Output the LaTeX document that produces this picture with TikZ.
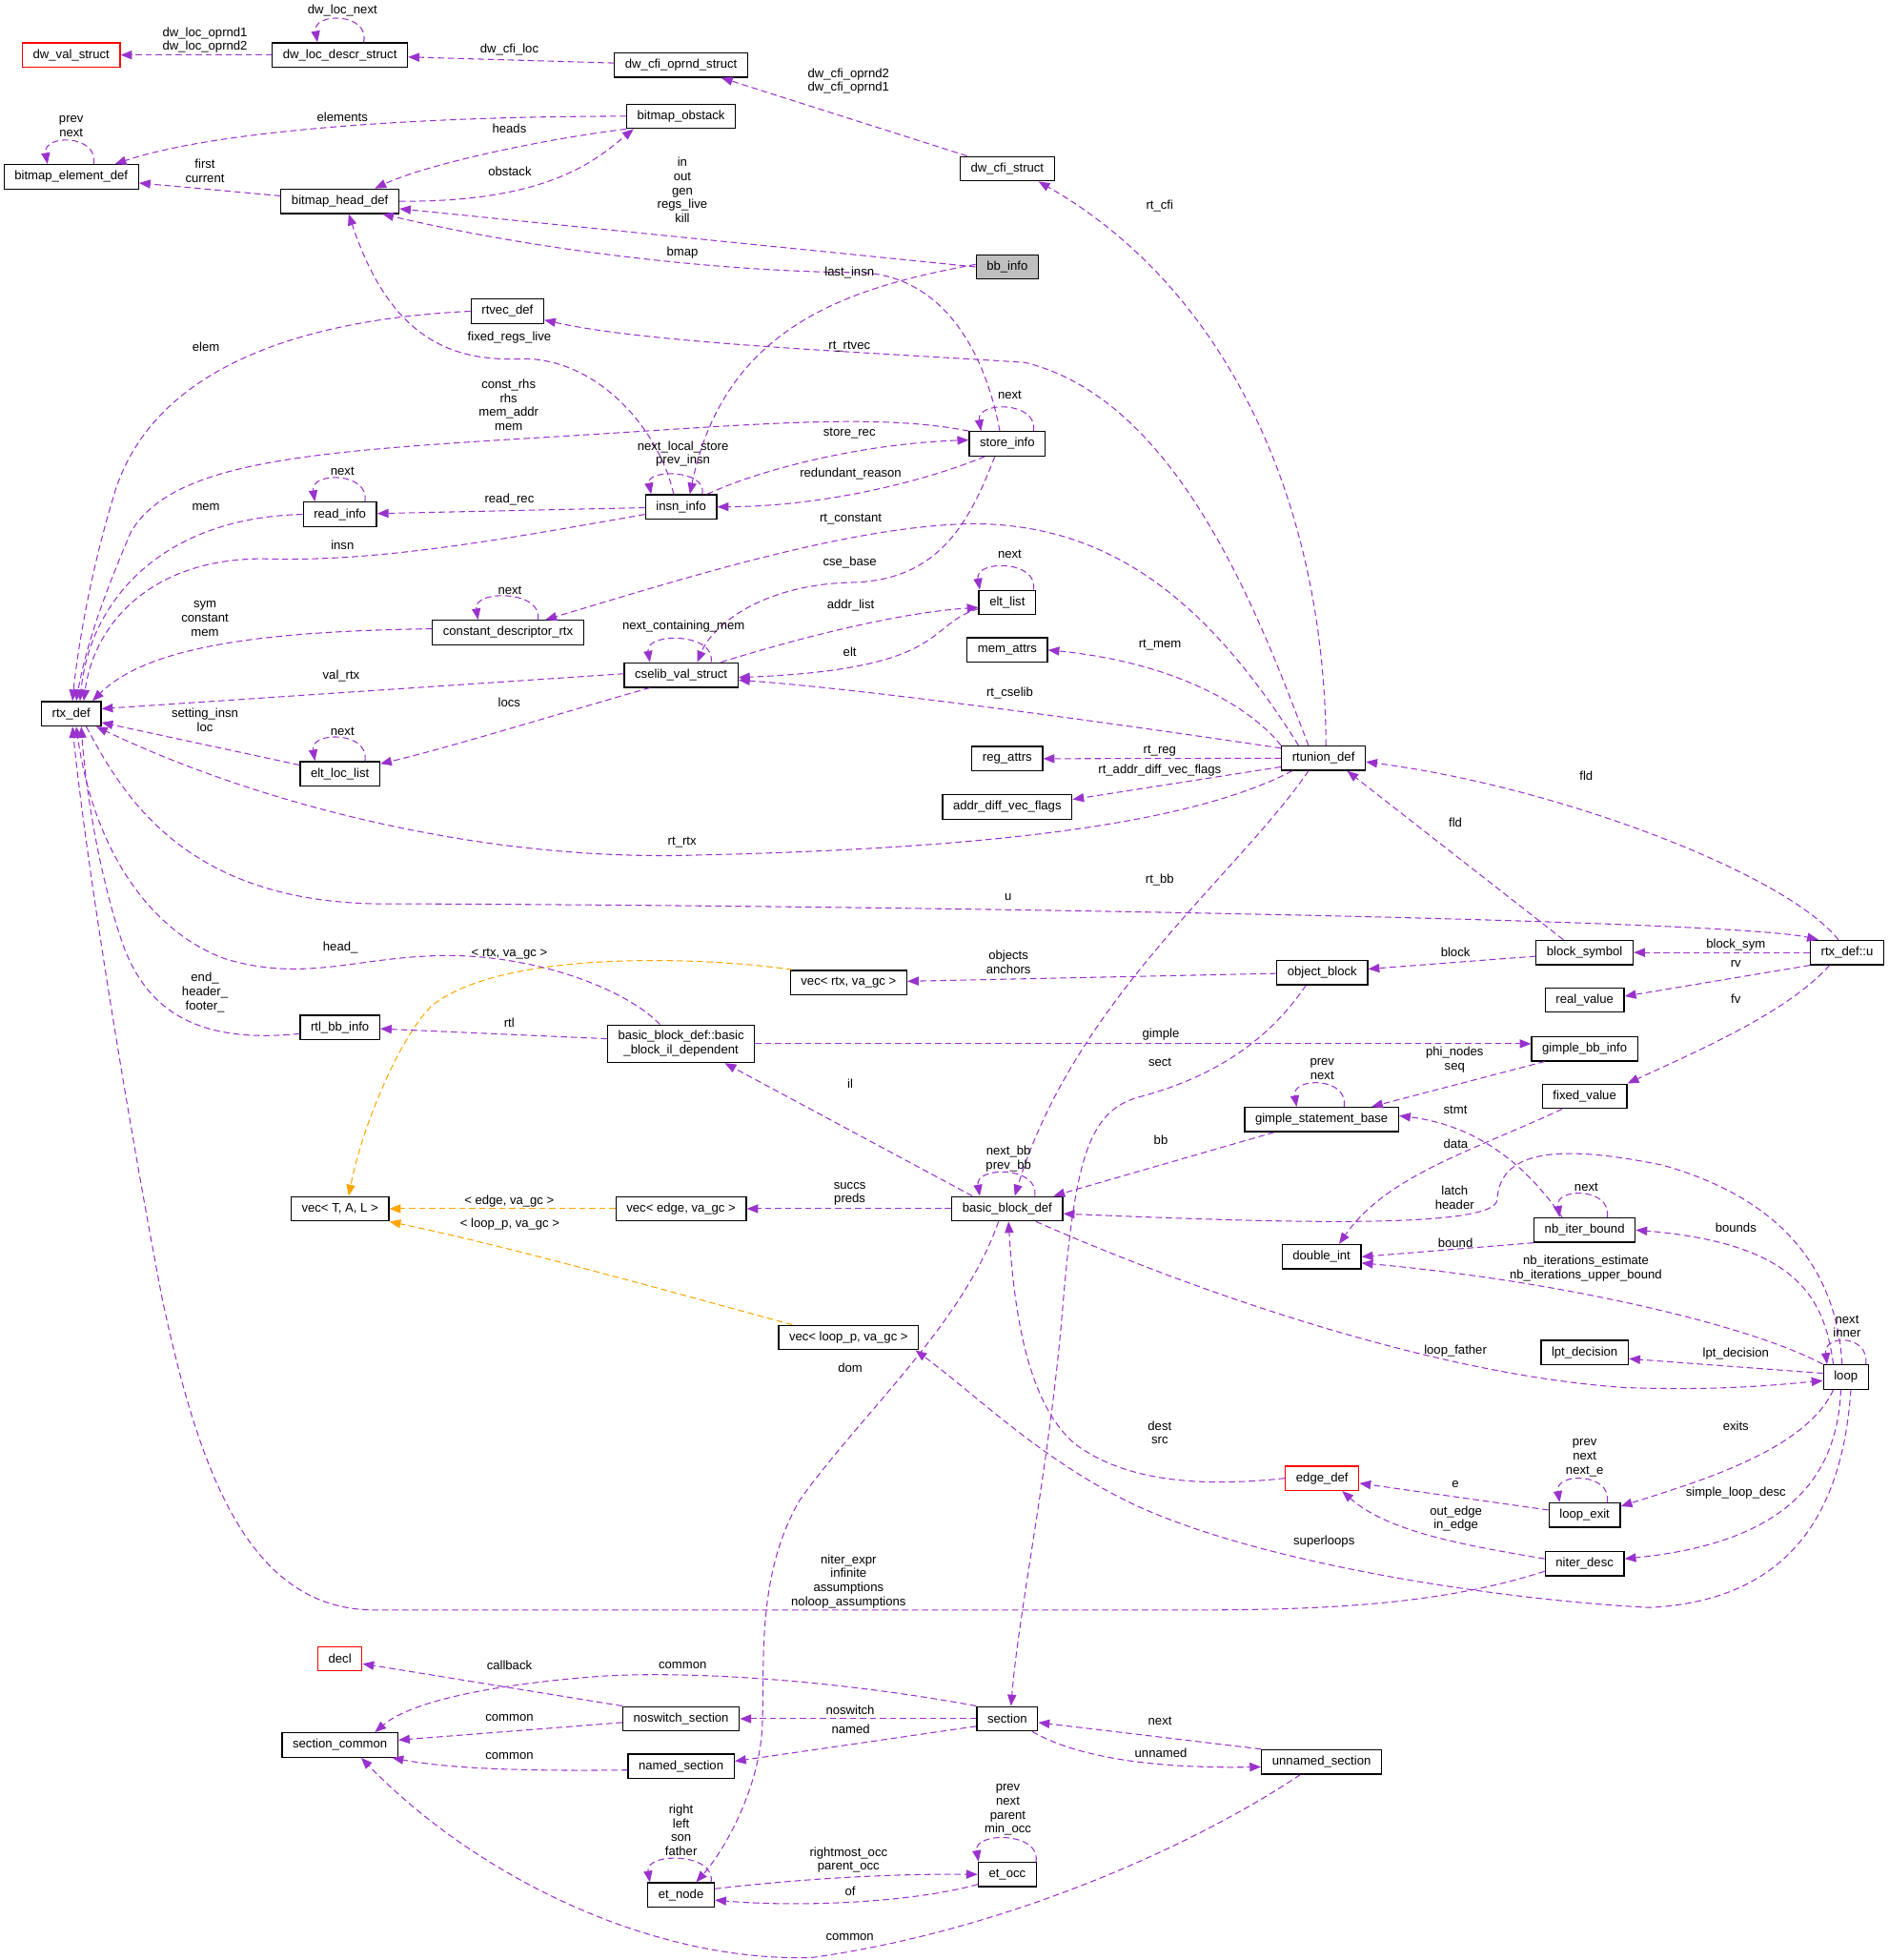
\documentclass[tikz,border=0pt]{standalone}
\usepackage{fontspec}
\setmainfont{Liberation Sans}
\usepackage{tikz}
\usetikzlibrary{arrows.meta}
\definecolor{memberpurple}{HTML}{9A32CD}
\definecolor{tmplorange}{HTML}{FFA500}
\definecolor{focusgray}{HTML}{BFBFBF}
\tikzstyle{cls} = [rectangle, draw=black, line width=1pt, fill=white, align=center, minimum height=19.5pt, inner xsep=8.5pt, inner ysep=2pt, font=\fontsize{10}{11.2}\selectfont]
\tikzstyle{undoc} = [cls, draw=red]
\tikzstyle{focus} = [cls, fill=focusgray]
\tikzstyle{member} = [draw=memberpurple, line width=0.8pt, dash pattern=on 5pt off 3pt, -{Triangle[length=9pt,width=7pt]}]
\tikzstyle{tmpl} = [member, draw=tmplorange]
\tikzstyle{lbl} = [font=\fontsize{10}{11.2}\selectfont, align=center, inner sep=0pt, text=black]

\begin{document}
\begin{tikzpicture}[x=1pt, y=-1pt]
    \useasboundingbox (0,0) rectangle (1511,1568);

    % Dwarf and bitmaps
    \node (dwval) [undoc] at (57,44) {dw\_val\_struct};
    \node (dwloc) [cls] at (272,44) {dw\_loc\_descr\_struct};
    \node (dwcfiop) [cls] at (545,52) {dw\_cfi\_oprnd\_struct};
    \node (bmobst) [cls] at (545,93) {bitmap\_obstack};
    \node (bmelt) [cls] at (57,141.5) {bitmap\_element\_def};
    \node (bmhead) [cls] at (272,161) {bitmap\_head\_def};
    \node (dwcfi) [cls] at (806,135) {dw\_cfi\_struct};
    \node (bbinfo) [focus] at (806,213.5) {bb\_info};

    % Rtl side
    \node (rtvec) [cls] at (406,249) {rtvec\_def};
    \node (store) [cls] at (806,355) {store\_info};
    \node (readi) [cls] at (272,411.5) {read\_info};
    \node (insn) [cls] at (545,405.5) {insn\_info};
    \node (cdrtx) [cls] at (406.5,506) {constant\_descriptor\_rtx};
    \node (eltl) [cls] at (806,482) {elt\_list};
    \node (memat) [cls] at (806,520) {mem\_attrs};
    \node (cselib) [cls] at (545,540) {cselib\_val\_struct};
    \node (rtx) [cls] at (57,571) {rtx\_def};
    \node (eltloc) [cls] at (272,619) {elt\_loc\_list};
    \node (regat) [cls] at (806,607) {reg\_attrs};
    \node (rtunion) [cls] at (1059,606.5) {rtunion\_def};
    \node (adiff) [cls] at (806,645.5) {addr\_diff\_vec\_flags};
    \node (blksym) [cls] at (1268,762) {block\_symbol};
    \node (rtxu) [cls] at (1478,762) {rtx\_def::u};
    \node (objblk) [cls] at (1058,778) {object\_block};
    \node (vecrtx) [cls] at (679,786) {vec< rtx, va\_gc >};
    \node (realv) [cls] at (1268,800) {real\_value};

    % Basic blocks and loops
    \node (rtlbb) [cls] at (272,822) {rtl\_bb\_info};
    \node (bbil) [cls, minimum height=30pt] at (545,835) {basic\_block\_def::basic\\\_block\_il\_dependent};
    \node (gbb) [cls] at (1268,839) {gimple\_bb\_info};
    \node (fixv) [cls] at (1268,877) {fixed\_value};
    \node (gstmt) [cls] at (1057.5,895.6) {gimple\_statement\_base};
    \node (vectal) [cls] at (272,967) {vec< T, A, L >};
    \node (vecedge) [cls] at (545,967) {vec< edge, va\_gc >};
    \node (bbdef) [cls] at (806,967) {basic\_block\_def};
    \node (nbiter) [cls] at (1268,984) {nb\_iter\_bound};
    \node (dint) [cls] at (1057.5,1005.4) {double\_int};
    \node (lpt) [cls] at (1268,1082) {lpt\_decision};
    \node (vecloop) [cls] at (679,1070) {vec< loop\_p, va\_gc >};
    \node (loop) [cls] at (1477,1101.6) {loop};
    \node (edgedef) [undoc] at (1058,1182.6) {edge\_def};
    \node (lexit) [cls] at (1268,1212) {loop\_exit};
    \node (niter) [cls] at (1268,1251) {niter\_desc};

    % Sections
    \node (decl) [undoc] at (272,1327) {decl};
    \node (seccom) [cls] at (272,1396) {section\_common};
    \node (noswitch) [cls] at (545,1375) {noswitch\_section};
    \node (section) [cls] at (806,1375) {section};
    \node (named) [cls] at (545,1413) {named\_section};
    \node (unnamed) [cls] at (1057.5,1409.5) {unnamed\_section};
    \node (etocc) [cls] at (806,1499.5) {et\_occ};
    \node (etnode) [cls] at (545,1516) {et\_node};

    % Arrows: dwarf and bitmaps
    \draw[member] (dwloc) -- (dwval) node[lbl] at (164,32) {dw\_loc\_oprnd1\\dw\_loc\_oprnd2};
    \draw[member] ([xshift=19pt]dwloc.north) .. controls +(5,-24) and +(-4,-24) .. ([xshift=-18pt]dwloc.north) node[lbl] at (274,8.5) {dw\_loc\_next};
    \draw[member] (dwcfiop) -- (dwloc) node[lbl] at (407.6,40) {dw\_cfi\_loc};
    \draw[member] (dwcfi) -- (dwcfiop) node[lbl] at (679,65) {dw\_cfi\_oprnd2\\dw\_cfi\_oprnd1};
    \draw[member] (bmobst.west) .. controls (330,93) and (170,105) .. ([xshift=35pt]bmelt.north) node[lbl] at (274,93.3) {elements};
    \draw[member] ([xshift=18pt]bmelt.north) .. controls +(4,-24) and +(-4,-24) .. ([xshift=-19pt]bmelt.north) node[lbl] at (57,101) {prev\\next};
    \draw[member] (bmobst.south west) .. controls (430,112) and (340,132) .. ([xshift=28pt]bmhead.north) node[lbl] at (407.6,102.5) {heads};
    \draw[member] (bmhead.east) .. controls (440,162) and (478,127) .. ([xshift=-38pt]bmobst.south) node[lbl] at (408,137) {obstack};
    \draw[member] (bmhead) -- (bmelt) node[lbl] at (164,136.7) {first\\current};
    \draw[member] (bbinfo.west) -- ([yshift=-6pt]bmhead.east) node[lbl] at (546,152) {in\\out\\gen\\regs\_live\\kill};
    \draw[member] ([xshift=-6pt]store.north) .. controls (790,290) and (760,222) .. (690,218) .. controls (600,218) and (450,205) .. ([xshift=34pt]bmhead.south) node[lbl] at (546,202) {bmap};
    \draw[member] ([xshift=-6pt]insn.north) .. controls (528,345) and (480,288) .. (420,287) .. controls (360,290) and (312,270) .. ([xshift=7pt]bmhead.south) node[lbl] at (407.6,270) {fixed\_regs\_live};
    \draw[member] (rtvec.west) .. controls (250,255) and (120,290) .. (90,400) .. controls (72,460) and (62,520) .. ([xshift=1pt]rtx.north) node[lbl] at (164.8,277.5) {elem};
    \draw[member] ([xshift=-12pt]rtunion.north) .. controls (1010,500) and (945,320) .. (820,290) .. controls (700,282) and (520,275) .. ([yshift=-7pt]rtvec.east) node[lbl] at (679.7,277) {rt\_rtvec};
    \draw[member] ([xshift=2pt]rtunion.north) .. controls (1060,400) and (980,230) .. ([xshift=25pt]dwcfi.south) node[lbl] at (928,165) {rt\_cfi};

    % Arrows: store and insn
    \draw[member] ([xshift=21pt]store.north) .. controls +(4,-24) and +(-4,-24) .. ([xshift=-21pt]store.north) node[lbl] at (808,316) {next};
    \draw[member] (store.north west) .. controls (700,330) and (600,340) .. (450,349) .. controls (250,361) and (140,368) .. (105,425) .. controls (88,465) and (70,510) .. ([xshift=4pt]rtx.north) node[lbl] at (407,324) {const\_rhs\\rhs\\mem\_addr\\mem};
    \draw[member] ([xshift=21pt]insn.north) .. controls (610,375) and (690,355) .. ([yshift=3pt]store.west) node[lbl] at (679.7,347) {store\_rec};
    \draw[member] ([xshift=-18pt]store.south) .. controls (740,385) and (660,405) .. (insn.east) node[lbl] at (680.7,379) {redundant\_reason};
    \draw[member] ([xshift=17pt]insn.north) .. controls +(4,-20) and +(-4,-20) .. ([xshift=-24pt]insn.north) node[lbl] at (546.5,363) {next\_local\_store\\prev\_insn};
    \draw[member] ([yshift=2pt]bbinfo.west) .. controls (680,230) and (580,260) .. ([xshift=7pt]insn.north) node[lbl] at (679.7,218) {last\_insn};
    \draw[member] (insn) -- (readi) node[lbl] at (407.6,400) {read\_rec};
    \draw[member] ([xshift=20pt]readi.north) .. controls +(4,-24) and +(-4,-24) .. ([xshift=-20pt]readi.north) node[lbl] at (274,377) {next};
    \draw[member] (readi.west) .. controls (130,414) and (72,480) .. ([xshift=7pt]rtx.north) node[lbl] at (164.8,406) {mem};
    \draw[member] ([yshift=-6pt]insn.west) .. controls (400,432) and (300,450) .. (210,447) .. controls (120,447) and (75,500) .. ([xshift=10pt]rtx.north) node[lbl] at (274,436) {insn};

    % Arrows: constants and cselib
    \draw[member] ([xshift=-20pt]rtunion.north) .. controls (960,470) and (880,420) .. (780,419) .. controls (680,420) and (540,465) .. ([xshift=30pt]cdrtx.north) node[lbl] at (680.7,415) {rt\_constant};
    \draw[member] ([xshift=24pt]cdrtx.north) .. controls +(4,-24) and +(-4,-24) .. ([xshift=-24pt]cdrtx.north) node[lbl] at (408,472) {next};
    \draw[member] ([yshift=3pt]cdrtx.west) .. controls (220,505) and (120,515) .. ([xshift=17pt]rtx.north) node[lbl] at (164,495) {sym\\constant\\mem};
    \draw[member] ([xshift=-10pt]store.south) .. controls (775,420) and (750,465) .. (680,466) .. controls (610,468) and (570,500) .. ([xshift=13pt]cselib.north) node[lbl] at (680,450) {cse\_base};
    \draw[member] ([xshift=32pt]cselib.north) .. controls (640,510) and (720,490) .. ([yshift=-4pt]eltl.west) node[lbl] at (680.7,484.5) {addr\_list};
    \draw[member] ([xshift=21pt]eltl.north) .. controls +(4,-24) and +(-4,-24) .. ([xshift=-22pt]eltl.north) node[lbl] at (808,443.5) {next};
    \draw[member] ([yshift=-5pt]eltl.west) .. controls (740,500) and (760,535) .. ([yshift=-2pt]cselib.east) node[lbl] at (680,521.4) {elt};
    \draw[member] ([xshift=24pt]cselib.north) .. controls +(4,-24) and +(-4,-24) .. ([xshift=-25pt]cselib.north) node[lbl] at (547,501) {next\_containing\_mem};
    \draw[member] (rtunion.north west) .. controls (1000,565) and (940,530) .. (memat.east) node[lbl] at (928.2,516) {rt\_mem};
    \draw[member] ([yshift=1pt]cselib.west) -- ([yshift=4pt]rtx.east) node[lbl] at (273,540.5) {val\_rtx};
    \draw[member] ([yshift=8pt]rtunion.west) .. controls (900,580) and (700,552) .. ([yshift=-4pt]cselib.east) node[lbl] at (808,554.8) {rt\_cselib};
    \draw[member] ([xshift=-25pt]cselib.south) .. controls (450,570) and (360,598) .. ([yshift=8pt]eltloc.east) node[lbl] at (407.5,562) {locs};
    \draw[member] ([xshift=20pt]eltloc.north) .. controls +(4,-24) and +(-4,-24) .. ([xshift=-20pt]eltloc.north) node[lbl] at (274,585) {next};
    \draw[member] ([yshift=7pt]eltloc.west) -- ([yshift=-7pt]rtx.east) node[lbl] at (164,576) {setting\_insn\\loc};

    % Arrows: rtunion and rtx_def::u
    \draw[member] (rtunion) -- (regat) node[lbl] at (928,601) {rt\_reg};
    \draw[member] ([yshift=-7pt]rtunion.west) -- ([yshift=6pt]adiff.east) node[lbl] at (928,616) {rt\_addr\_diff\_vec\_flags};
    \draw[member] ([xshift=-25pt]rtunion.south) .. controls (960,655) and (820,678) .. (560,684) .. controls (380,690) and (200,640) .. ([xshift=20pt]rtx.south) node[lbl] at (545.8,674) {rt\_rtx};
    \draw[member] ([xshift=12pt]rtx.south) .. controls (100,640) and (150,720) .. (300,723) .. controls (700,724) and (1380,735) .. ([xshift=-23pt]rtxu.north) node[lbl] at (806.7,718) {u};
    \draw[member] ([xshift=-7pt]rtxu.north) .. controls (1430,700) and (1250,630) .. ([yshift=-3pt]rtunion.east) node[lbl] at (1269.3,620.8) {fld};
    \draw[member] ([xshift=-17pt]blksym.north) -- ([xshift=19pt]rtunion.south) node[lbl] at (1164.6,658.3) {fld};
    \draw[member] ([xshift=-12pt]rtunion.south) .. controls (990,700) and (860,800) .. ([xshift=6pt]bbdef.north) node[lbl] at (928,703.6) {rt\_bb};
    \draw[member] (rtxu) -- (blksym) node[lbl] at (1389,755.7) {block\_sym};
    \draw[member] (rtxu.south west) -- ([yshift=3pt]realv.east) node[lbl] at (1389,770.7) {rv};
    \draw[member] ([xshift=-14pt]rtxu.south) .. controls (1430,810) and (1360,840) .. (fixv.north east) node[lbl] at (1389,799) {fv};
    \draw[member] (blksym) -- (objblk) node[lbl] at (1164.6,761.5) {block};
    \draw[member] (objblk) -- (vecrtx) node[lbl] at (807,770) {objects\\anchors};
    \draw[tmpl] ([xshift=-45pt]vecrtx.north) .. controls (560,765) and (400,760) .. (345,805) .. controls (320,830) and (290,900) .. ([xshift=7pt]vectal.north) node[lbl] at (407.6,763.2) {< rtx, va\_gc >};

    % Arrows: basic blocks
    \draw[member] ([xshift=-17pt]bbil.north) .. controls (500,790) and (420,760) .. (340,765) .. controls (280,768) and (240,785) .. (180,767) .. controls (120,745) and (75,680) .. ([xshift=4pt]rtx.south) node[lbl] at (272.4,758.4) {head\_};
    \draw[member] ([yshift=-5pt]rtlbb.west) .. controls (160,835) and (120,810) .. (100,760) .. controls (85,720) and (70,650) .. ([xshift=8pt]rtx.south) node[lbl] at (164,794) {end\_\\header\_\\footer\_};
    \draw[member] ([yshift=4pt]bbil.west) -- ([yshift=-1pt]rtlbb.east) node[lbl] at (407.5,818.3) {rtl};
    \draw[member] (bbil.east) -- ([yshift=4pt]gbb.west) node[lbl] at (928.9,827.2) {gimple};
    \draw[member] ([xshift=-28pt]bbdef.north) -- ([xshift=35pt]bbil.south) node[lbl] at (680.3,866.7) {il};
    \draw[member] ([xshift=-32pt]gbb.south) -- ([xshift=40pt]gstmt.north) node[lbl] at (1164,848) {phi\_nodes\\seq};
    \draw[member] ([xshift=18pt]gstmt.north) .. controls +(4,-24) and +(-4,-24) .. ([xshift=-20pt]gstmt.north) node[lbl] at (1058,855.5) {prev\\next};
    \draw[member] ([xshift=-13pt]objblk.south) .. controls (1010,840) and (960,865) .. (910,878) .. controls (870,890) and (860,930) .. (850,1050) .. controls (840,1170) and (815,1290) .. ([xshift=3pt]section.north) node[lbl] at (928.2,850) {sect};
    \draw[member] ([xshift=-38pt]gstmt.south) -- ([xshift=37pt]bbdef.north) node[lbl] at (928.9,912) {bb};
    \draw[member] ([xshift=22pt]bbdef.north) .. controls +(4,-24) and +(-4,-24) .. ([xshift=-22pt]bbdef.north) node[lbl] at (807,927) {next\_bb\\prev\_bb};
    \draw[member] (bbdef) -- (vecedge) node[lbl] at (680,955) {succs\\preds};
    \draw[tmpl] (vecedge) -- (vectal) node[lbl] at (407.5,961) {< edge, va\_gc >};
    \draw[tmpl] ([xshift=-45pt]vecloop.north) .. controls (560,1040) and (420,1000) .. (vectal.south east) node[lbl] at (408,979) {< loop\_p, va\_gc >};

    % Arrows: loops
    \draw[member] ([xshift=-18pt]nbiter.north) .. controls (1220,930) and (1180,900) .. ([yshift=3pt]gstmt.east) node[lbl] at (1164.6,888.2) {stmt};
    \draw[member] ([xshift=-18pt]fixv.south) .. controls (1180,920) and (1110,940) .. ([xshift=14pt]dint.north) node[lbl] at (1164.9,915.4) {data};
    \draw[member] ([xshift=-3pt]loop.north) .. controls (1470,1020) and (1430,960) .. (1330,932) .. controls (1260,918) and (1200,915) .. (1198,960) .. controls (1195,985) and (1000,977) .. ([yshift=-4pt]bbdef.east) node[lbl] at (1164,958) {latch\\header};
    \draw[member] (nbiter.south west) -- (dint.east) node[lbl] at (1164.6,994.4) {bound};
    \draw[member] ([xshift=18pt]nbiter.north) .. controls +(4,-24) and +(-4,-24) .. ([xshift=-20pt]nbiter.north) node[lbl] at (1269.3,949.4) {next};
    \draw[member] ([xshift=-10pt]loop.north) .. controls (1460,1040) and (1440,995) .. (nbiter.east) node[lbl] at (1389,981.8) {bounds};
    \draw[member] (loop.north west) .. controls (1400,1060) and (1250,1025) .. ([yshift=-5pt]dint.east) node[lbl] at (1269,1015) {nb\_iterations\_estimate\\nb\_iterations\_upper\_bound};
    \draw[member] ([xshift=23pt]bbdef.south) .. controls (960,1035) and (1150,1100) .. (1300,1110) .. controls (1380,1113) and (1430,1107) .. ([yshift=-3pt]loop.west) node[lbl] at (1164.6,1080.6) {loop\_father};
    \draw[member] ([yshift=3pt]loop.west) -- ([yshift=-5pt]lpt.east) node[lbl] at (1389,1083) {lpt\_decision};
    \draw[member] ([xshift=16pt]loop.north) .. controls +(3,-24) and +(-3,-24) .. ([xshift=-15pt]loop.north) node[lbl] at (1478,1061) {next\\inner};
    \draw[member] ([xshift=-10pt]loop.south) .. controls (1445,1160) and (1360,1185) .. ([yshift=7pt]lexit.east) node[lbl] at (1389,1140.6) {exits};
    \draw[member] ([xshift=18pt]lexit.north) .. controls +(4,-24) and +(-4,-24) .. ([xshift=-20pt]lexit.north) node[lbl] at (1268,1166.3) {prev\\next\\next\_e};
    \draw[member] ([yshift=4pt]lexit.west) -- ([yshift=-4pt]edgedef.east) node[lbl] at (1164.6,1187.6) {e};
    \draw[member] ([yshift=4pt]niter.west) .. controls (1170,1236) and (1110,1225) .. ([xshift=16pt]edgedef.south) node[lbl] at (1165,1215) {out\_edge\\in\_edge};
    \draw[member] ([xshift=-4pt]loop.south) .. controls (1470,1190) and (1420,1235) .. ([yshift=4pt]niter.east) node[lbl] at (1389,1194.4) {simple\_loop\_desc};
    \draw[member] ([xshift=4pt]loop.south) .. controls (1475,1200) and (1440,1280) .. (1320,1286) .. controls (1200,1280) and (1000,1250) .. (900,1200) .. controls (830,1165) and (780,1115) .. ([xshift=-3pt]vecloop.south east) node[lbl] at (1059.5,1233.5) {superloops};
    \draw[member] (edgedef.west) .. controls (960,1190) and (900,1185) .. (860,1155) .. controls (825,1125) and (812,1060) .. ([xshift=1pt]bbdef.south) node[lbl] at (928,1146) {dest\\src};
    \draw[member] ([yshift=-6pt]niter.west) .. controls (1150,1285) and (1050,1288) .. (950,1288) -- (300,1288) .. controls (200,1288) and (160,1180) .. (130,1040) .. controls (105,910) and (70,700) .. ([xshift=1pt]rtx.south) node[lbl] at (679,1265) {niter\_expr\\infinite\\assumptions\\noloop\_assumptions};
    \draw[member] ([xshift=-7pt]bbdef.south) .. controls (770,1060) and (690,1130) .. (640,1200) .. controls (605,1260) and (612,1330) .. (610,1380) .. controls (608,1430) and (580,1480) .. ([xshift=12pt]etnode.north) node[lbl] at (680.3,1094.6) {dom};

    % Arrows: et tree
    \draw[member] ([xshift=24pt]etnode.north) .. controls +(4,-24) and +(-4,-24) .. ([xshift=-25pt]etnode.north) node[lbl] at (545,1464) {right\\left\\son\\father};
    \draw[member] ([yshift=5pt]etnode.east) .. controls (650,1502) and (720,1499) .. (etocc.west) node[lbl] at (679,1488) {rightmost\_occ\\parent\_occ};
    \draw[member] ([yshift=-8pt]etocc.west) .. controls (730,1522) and (640,1526) .. ([yshift=-4pt]etnode.east) node[lbl] at (680.3,1512.7) {of};
    \draw[member] ([xshift=23pt]etocc.north) .. controls +(4,-24) and +(-4,-24) .. ([xshift=-23pt]etocc.north) node[lbl] at (806.5,1448) {prev\\next\\parent\\min\_occ};

    % Arrows: sections
    \draw[member] (section) -- (noswitch) node[lbl] at (680.3,1368.3) {noswitch};
    \draw[member] ([yshift=-6pt]section.west) -- ([yshift=4pt]named.east) node[lbl] at (680.7,1383.6) {named};
    \draw[member] (section.north west) .. controls (680,1346) and (560,1336) .. (480,1341) .. controls (400,1347) and (330,1360) .. ([xshift=28pt]seccom.north) node[lbl] at (546.2,1332.6) {common};
    \draw[member] (noswitch.north west) -- ([yshift=-4pt]decl.east) node[lbl] at (407.6,1332.2) {callback};
    \draw[member] ([yshift=-3pt]noswitch.west) -- ([yshift=4pt]seccom.east) node[lbl] at (407.6,1374) {common};
    \draw[member] ([yshift=-3pt]named.west) .. controls (420,1417) and (360,1415) .. ([xshift=-5pt]seccom.south east) node[lbl] at (407.6,1405) {common};
    \draw[member] ([xshift=20pt]section.south) .. controls (860,1405) and (920,1415) .. ([yshift=-4pt]unnamed.west) node[lbl] at (928.9,1402) {unnamed};
    \draw[member] (unnamed.north west) -- ([yshift=-3pt]section.east) node[lbl] at (928.2,1376.9) {next};
    \draw[member] ([xshift=-17pt]unnamed.south) .. controls (950,1480) and (800,1545) .. (650,1566) .. controls (520,1570) and (380,1500) .. ([xshift=17pt]seccom.south) node[lbl] at (680,1549.8) {common};
\end{tikzpicture}
\end{document}
